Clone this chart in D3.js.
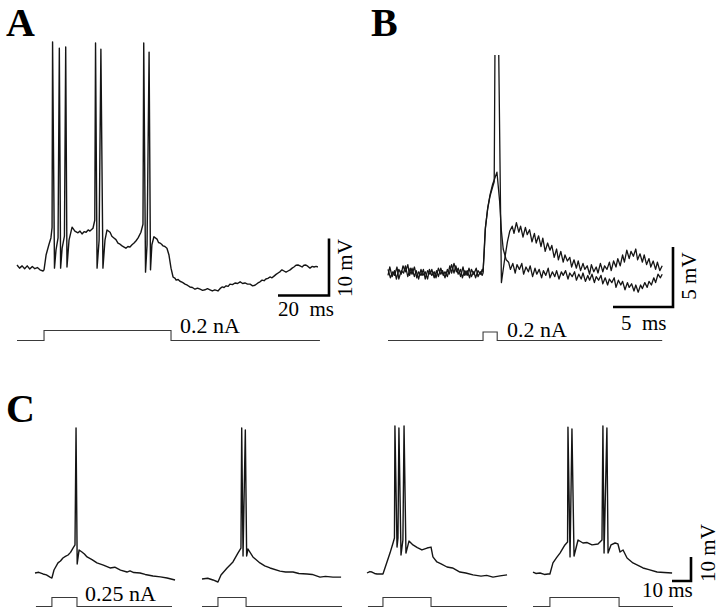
<!DOCTYPE html>
<html>
<head>
<meta charset="utf-8">
<script src="https://cdn.jsdelivr.net/npm/d3@7"></script>
<style>
  html, body { margin: 0; padding: 0; background: #fff; }
  svg { display: block; }
  text { font-family: "Liberation Serif", "Times New Roman", serif; fill: #000; }
</style>
</head>
<body>
<svg id="fig" width="720" height="613"></svg>
<script>
// ---------------- DATA (time in ms, membrane potential in mV relative to rest, current in nA) ----------------
// Panel A: response to a 0.2 nA step
const traceA = [[0,0.35],[1,-0.2],[2,0.2],[3,-0.3],[4,0.2],[5,-0.35],[6,0.1],[7,-0.3],[8,-0.1],[9,-0.5],[10.2,-0.7],[10.6,-0.5],
[11.4,2.1],[12.5,3.9],[13.3,5.1],[13.75,6.9],[13.95,39.5],[14.7,-0.2],[15.3,3.0],[16.1,5.1],[16.6,38.4],[17.1,-0.2],[17.7,3.3],
[18.6,5.4],[19.1,38.6],[19.6,0],[20.4,4.7],[21.6,7.0],[22.7,6.3],[23.9,6.0],[24.7,6.3],[25.5,5.8],[26.3,6.2],[27.1,6.1],[27.9,6.5],
[28.6,6.3],[29.8,6.8],[30.5,8.2],[30.8,39.3],[31.4,-0.2],[32.2,4.7],[32.9,38.2],[33.7,-0.2],[34.5,4.7],[35.3,6.5],[36.5,6.1],
[37.2,5.4],[38.0,5.1],[38.8,4.8],[39.6,4.2],[40.4,4.0],[41.2,3.7],[42.0,3.5],[42.7,3.3],[43.5,3.6],[44.3,3.5],[45.1,3.9],[45.9,4.2],
[46.7,4.6],[47.5,5.1],[48.6,6.1],[49.4,7.5],[49.7,39.3],[50.4,-0.9],[51.0,3.9],[51.8,37.7],[52.35,-0.5],[52.9,3.9],[53.7,5.3],
[54.9,4.9],[55.5,4.3],[56.1,4.2],[56.7,4.0],[57.3,3.7],[58.0,3.6],[58.8,3.3],[59.6,2.1],[60.4,-0.2],[61.2,-1.75],[62.0,-2.0],
[62.4,-2.3],[63.2,-2.2],[63.9,-2.5],[64.9,-2.7],[65.9,-3.0],[66.8,-3.2],[67.8,-3.5],[68.8,-3.6],[69.8,-3.9],[70.8,-3.7],[71.8,-3.9],
[72.8,-4.1],[73.7,-4.0],[74.7,-3.8],[75.7,-4.0],[76.6,-4.2],[77.6,-4.0],[78.8,-4.2],[79.6,-3.8],[80.4,-3.5],[81.2,-3.6],[82.0,-3.3],
[82.8,-3.4],[83.5,-3.0],[84.5,-3.1],[85.5,-2.8],[86.5,-2.9],[87.5,-2.6],[88.5,-2.9],[89.4,-2.8],[90.4,-3.0],[91.4,-3.0],[92.4,-3.3],
[93.3,-3.2],[94.5,-2.8],[95.3,-2.6],[96.1,-2.3],[96.9,-2.4],[97.6,-2.1],[98.4,-2.0],[99.2,-1.75],[100.0,-1.9],[100.8,-1.6],
[101.6,-1.3],[102.4,-1.05],[103.2,-0.8],[103.9,-0.5],[104.7,-0.7],[105.5,-0.9],[106.3,-0.7],[107.1,-0.5],[107.9,-0.2],[108.6,0],
[109.4,0.3],[110.2,0.35],[111.0,0.2],[111.8,0],[112.5,0.3],[113.3,0.35],[114.1,0.1],[114.9,-0.2],[115.7,0.1],[116.5,0],[117.3,0.1],[118.0,0]];
const stimA = [[0,0],[10.6,0],[10.6,0.2],[60.4,0.2],[60.4,0],[118.8,0]];
const stimALabel = "0.2 nA";

// Panel B: two superimposed sweeps, brief 0.2 nA pulse
const traceB1 = [[0,0.3],[0.2,-0.4],[0.4,0.1],[0.55,-0.2],[0.75,0.5],[0.9,-0.5],[1.1,0.2],[1.3,0.0],[1.45,0.6],[1.65,-0.3],[1.85,0.4],
[2.0,-0.1],[2.2,0.5],[2.4,-0.4],[2.55,0.1],[2.75,-0.2],[2.95,0.3],[3.1,-0.5],[3.3,0.2],[3.5,-0.1],[3.65,0.3],[3.85,-0.4],[4.05,0.2],
[4.2,-0.3],[4.4,0.4],[4.6,-0.2],[4.75,0.1],[4.95,-0.3],[5.15,0.6],[5.3,0.0],[5.5,0.8],[5.7,0.1],[5.85,0.4],[6.05,-0.3],[6.25,0.5],
[6.4,-0.2],[6.6,0.2],[6.8,-0.4],[6.95,0.3],[7.15,-0.1],[7.35,0.4],[7.5,-0.3],[7.7,0.1],[7.85,-0.2],[7.92,0],[8.0,1.6],[8.1,3.6],
[8.3,5.3],[8.5,6.4],[8.7,7.1],[8.85,7.6],[8.95,25],[9.15,25],[9.45,-0.8],[9.7,1.0],[9.95,2.6],[10.15,3.5],[10.35,3.9],[10.5,3.3],
[10.7,4.2],[10.9,3.4],[11.05,3.9],[11.25,3.0],[11.45,3.8],[11.6,3.2],[11.8,3.6],[12.0,2.6],[12.2,3.3],[12.35,2.5],[12.55,3.1],
[12.75,2.2],[12.9,2.9],[13.1,1.8],[13.3,2.5],[13.5,1.9],[13.65,2.3],[13.85,1.3],[14.05,2.0],[14.2,1.1],[14.4,1.8],[14.6,0.9],
[14.75,1.5],[14.95,1.0],[15.15,1.3],[15.3,0.5],[15.5,1.1],[15.7,0.4],[15.85,1.0],[16.05,0.2],[16.25,0.8],[16.4,0.3],[16.6,0.6],
[16.8,-0.1],[16.95,0.7],[17.15,0.1],[17.35,0.5],[17.5,0.0],[17.7,0.8],[17.9,0.1],[18.05,0.6],[18.25,0.3],[18.45,0.9],[18.6,0.2],
[18.8,1.0],[19.0,0.5],[19.15,1.2],[19.35,0.6],[19.55,1.5],[19.7,0.9],[19.9,1.9],[20.1,1.2],[20.25,1.8],[20.45,1.4],[20.65,2.0],
[20.8,1.1],[21.0,1.6],[21.2,0.9],[21.35,1.5],[21.55,0.7],[21.75,1.2],[21.9,0.5],[22.1,1.0],[22.3,0.3],[22.45,0.9],[22.65,0.2],[22.85,0.6]];
const traceB2 = [[0,-0.2],[0.15,0.5],[0.35,-0.3],[0.55,0.2],[0.7,-0.5],[0.9,0.3],[1.1,-0.1],[1.25,0.6],[1.45,0.1],[1.65,0.7],[1.8,-0.2],
[2.0,0.4],[2.2,-0.3],[2.35,0.2],[2.55,-0.5],[2.75,0.3],[2.9,-0.2],[3.1,0.1],[3.3,-0.5],[3.45,0.3],[3.65,-0.2],[3.85,0.1],[4.0,-0.4],
[4.2,0.4],[4.4,-0.1],[4.55,0.2],[4.75,-0.4],[4.95,0.3],[5.1,-0.1],[5.3,0.7],[5.5,0.0],[5.65,0.6],[5.85,-0.1],[6.05,0.3],[6.2,-0.4],
[6.4,0.2],[6.6,-0.2],[6.75,0.4],[6.95,-0.3],[7.15,0.1],[7.3,-0.4],[7.5,0.2],[7.7,-0.1],[7.85,0.3],[7.92,0.1],[8.02,1.8],[8.12,3.8],
[8.32,5.5],[8.52,6.6],[8.72,7.4],[8.9,7.9],[9.08,8.4],[9.3,6.0],[9.45,3.5],[9.6,2.0],[9.85,1.1],[10.05,0.9],[10.2,0.3],[10.4,0.8],
[10.6,0.0],[10.75,0.7],[10.95,0.3],[11.15,0.8],[11.3,-0.1],[11.5,0.5],[11.7,0.1],[11.85,0.6],[12.05,-0.3],[12.25,0.4],[12.4,-0.1],
[12.6,0.3],[12.8,-0.4],[12.95,0.2],[13.15,-0.2],[13.35,0.4],[13.5,-0.4],[13.7,0.1],[13.9,-0.3],[14.05,0.2],[14.25,-0.5],[14.45,0.1],
[14.6,-0.2],[14.8,0.2],[15.0,-0.5],[15.15,0.0],[15.35,-0.3],[15.55,0.1],[15.7,-0.6],[15.9,-0.1],[16.1,-0.5],[16.25,0.0],[16.45,-0.7],
[16.65,-0.2],[16.8,-0.6],[17.0,-0.1],[17.2,-0.8],[17.35,-0.3],[17.55,-0.6],[17.75,-0.2],[17.9,-0.9],[18.1,-0.4],[18.3,-1.0],[18.45,-0.5],
[18.65,-0.8],[18.85,-0.4],[19.0,-1.2],[19.2,-0.6],[19.4,-1.0],[19.55,-0.7],[19.75,-1.4],[19.95,-0.8],[20.1,-1.2],[20.3,-0.9],[20.5,-1.5],
[20.65,-1.0],[20.85,-1.6],[21.05,-1.0],[21.2,-1.3],[21.4,-0.8],[21.6,-1.2],[21.75,-0.7],[21.95,-1.0],[22.15,-0.4],[22.3,-0.8],
[22.5,-0.1],[22.7,-0.4],[22.85,-0.1]];
const stimB = [[0,0],[7.92,0],[7.92,0.2],[9.1,0.2],[9.1,0],[22.85,0]];
const stimBLabel = "0.2 nA";

// Panel C: four sweeps, 0.25 nA pulses of increasing duration
const traceC1 = [[0,0],[2,0.3],[4.2,-0.4],[6,-0.8],[7.9,-1.7],[8.9,-2.1],[10.0,1.25],[12.1,4.2],[13.4,5.0],[14.7,6.25],[16,6.9],
[17.4,7.5],[18.7,8.6],[20.0,10.4],[21.05,11.7],[21.6,60.4],[22.2,3.75],[23.2,9.6],[24.7,8.75],[26,7.9],[27.4,6.7],[30,5.6],[32.6,4.2],
[36,3.3],[39.5,2.1],[42,2.4],[45,1.2],[48.4,0.4],[50,0.9],[52,0.2],[55.3,0],[58,-0.6],[62.1,-1.25],[66,-1.6],[69.5,-2.1],[73.7,-2.9]];
const stimC1 = [[0.5,0],[8.9,0],[8.9,0.25],[22.1,0.25],[22.1,0],[72.1,0]];
const traceC2 = [[0,-2.5],[3,-2.2],[5.8,-2.9],[8.4,-3.75],[10.0,-0.8],[13.2,2.1],[16.3,4.6],[18.9,8.3],[20.5,10.4],[20.9,60.4],
[21.6,7.1],[22.8,59.6],[23.5,7.1],[24.2,10.0],[26.8,6.7],[30.5,4.2],[33,3.0],[35.8,2.1],[41.05,0.8],[44,0.4],[47.9,0.4],[51,-0.2],
[55.3,-0.4],[58,-0.6],[62.1,-1.7],[65,-1.4],[68.9,-1.7],[73.2,-1.7]];
const stimC2 = [[0,0],[8.4,0],[8.4,0.25],[23.2,0.25],[23.2,0],[73.7,0]];
const traceC3 = [[0,0],[1.5,0.6],[2.6,0.4],[4,-0.2],[5.3,-0.4],[8.4,-0.4],[12.1,8.3],[13.7,12.5],[14.45,14.6],[14.7,61.25],[15.8,10.8],
[16.3,14.6],[16.8,60.4],[17.9,7.5],[18.9,13.75],[19.5,61.25],[20.5,8.3],[22.1,13.3],[24.2,11.7],[26.5,10.6],[28.9,9.6],[31.6,10.4],
[33.7,10.8],[34.7,6.7],[36.8,4.6],[39,3.8],[42.1,2.5],[45,2.1],[48.9,0.4],[52,0],[55.8,-0.8],[60,-1.3],[63,-1.0],[66.3,-1.7],
[70,-1.2],[73.7,-0.8]];
const stimC3 = [[0.5,0],[8.4,0],[8.4,0.25],[33.7,0.25],[33.7,0],[73.7,0]];
const traceC4 = [[0,0.4],[1.5,-0.2],[3.7,0],[6,-0.6],[7.9,-0.4],[8.9,-0.4],[10.5,4.2],[12.5,6.5],[14.2,8.3],[16.8,11.7],[18.2,12.9],
[18.4,60.8],[19.5,6.7],[20.5,60.0],[21.6,7.1],[23.7,13.75],[26.3,12.5],[28.5,12.7],[31.05,11.7],[34.2,12.1],[36.3,13.75],[36.8,61.25],
[37.4,8.3],[38.9,60.4],[39.5,8.3],[41.05,11.7],[43.2,12.5],[44.7,12.1],[45.8,8.75],[47.4,9.6],[49.5,6.25],[52.6,4.2],[55,3.3],
[57.9,2.1],[61,1.4],[65.3,0.4],[69,0.2],[73.2,0]];
const stimC4 = [[0,0],[8.9,0],[8.9,0.25],[45.3,0.25],[45.3,0],[73.7,0]];
const tracesC = [traceC1, traceC2, traceC3, traceC4];
const stimsC = [stimC1, stimC2, stimC3, stimC4];
const stimCLabel = "0.25 nA";

// Panel labels and calibration bars
const panelLabels = ["A", "B", "C"];
const calA = { ms: 20, mV: 10, msText: "20  ms", mVText: "10 mV" };
const calB = { ms: 5, mV: 5, msText: "5  ms", mVText: "5 mV" };
const calC = { ms: 10, mV: 10, msText: "10 ms", mVText: "10 mV" };

// ---------------- LAYOUT ----------------
const svg = d3.select("#fig");
const traceColor = "#151515";
const stimColor = "#3a3a3a";

const line = (xs, ys) => d3.line().x(d => xs(d[0])).y(d => ys(d[1]));

function drawTrace(g, data, xs, ys, w) {
  g.append("path").datum(data)
    .attr("d", line(xs, ys))
    .attr("fill", "none").attr("stroke", traceColor)
    .attr("stroke-width", w).attr("stroke-linejoin", "round");
}
function drawStim(g, data, xs, ys) {
  g.append("path").datum(data)
    .attr("d", line(xs, ys))
    .attr("fill", "none").attr("stroke", stimColor)
    .attr("stroke-width", 1.1);
}
function drawCal(g, cx, cy, xs, ys, cal, msPos, mVPos) {
  const lx = xs(cal.ms) - xs(0);
  const ly = ys(0) - ys(cal.mV);
  g.append("path")
    .attr("d", `M${cx - lx},${cy}H${cx}V${cy - ly}`)
    .attr("fill", "none").attr("stroke", "#000").attr("stroke-width", 2.6)
    .attr("stroke-linejoin", "miter");
  g.append("text").attr("x", msPos[0]).attr("y", msPos[1])
    .attr("font-size", 21).style("white-space", "pre").text(cal.msText);
  g.append("text")
    .attr("transform", `translate(${mVPos[0]},${mVPos[1]}) rotate(-90)`)
    .attr("text-anchor", "middle").attr("dominant-baseline", "central")
    .attr("font-size", 21).text(cal.mVText);
}

// Panel labels
const labelPos = [[6, 36], [371, 36], [6, 422]];
panelLabels.forEach((l, i) => {
  svg.append("text").attr("x", labelPos[i][0]).attr("y", labelPos[i][1])
    .attr("font-size", 40).attr("font-weight", "bold").text(l);
});

// ---- Panel A ----
{
  const g = svg.append("g");
  const x = d3.scaleLinear().domain([0, 120]).range([17, 17 + 120 * 2.55]);
  const y = d3.scaleLinear().domain([0, 10]).range([267, 267 - 57]);
  const yi = d3.scaleLinear().domain([0, 0.2]).range([340.5, 330.5]);
  drawStim(g, stimA, x, yi);
  drawTrace(g, traceA, x, y, 1.4);
  g.append("text").attr("x", 180).attr("y", 333).attr("font-size", 22).text(stimALabel);
  drawCal(g, 329, 295.5, x, y, calA, [278, 316], [345, 268]);
}

// ---- Panel B ----
{
  const g = svg.append("g");
  svg.append("clipPath").attr("id", "clipB").append("rect")
    .attr("x", 370).attr("y", 55).attr("width", 340).attr("height", 270);
  const x = d3.scaleLinear().domain([0, 23]).range([388, 388 + 23 * 12]);
  const y = d3.scaleLinear().domain([0, 5]).range([273, 273 - 60]);
  const yi = d3.scaleLinear().domain([0, 0.2]).range([340.5, 332]);
  drawStim(g, stimB, x, yi);
  const gt = g.append("g").attr("clip-path", "url(#clipB)");
  drawTrace(gt, traceB2, x, y, 1.3);
  drawTrace(gt, traceB1, x, y, 1.3);
  g.append("text").attr("x", 507).attr("y", 337).attr("font-size", 22).text(stimBLabel);
  drawCal(g, 673, 307, x, y, calB, [621, 330], [689, 276]);
}

// ---- Panel C ----
{
  const g = svg.append("g");
  const sweepLeft = [35, 202, 367, 533];
  const y = d3.scaleLinear().domain([0, 10]).range([573, 573 - 24]);
  const yi = d3.scaleLinear().domain([0, 0.25]).range([606.5, 597.5]);
  let xLast;
  tracesC.forEach((tr, i) => {
    const x = d3.scaleLinear().domain([0, 80]).range([sweepLeft[i], sweepLeft[i] + 80 * 1.9]);
    drawStim(g, stimsC[i], x, yi);
    drawTrace(g, tr, x, y, 1.4);
    xLast = x;
  });
  g.append("text").attr("x", 85).attr("y", 601).attr("font-size", 22).text(stimCLabel);
  drawCal(g, 691, 581, xLast, y, calC, [642, 597], [708, 553]);
}
</script>
</body>
</html>
